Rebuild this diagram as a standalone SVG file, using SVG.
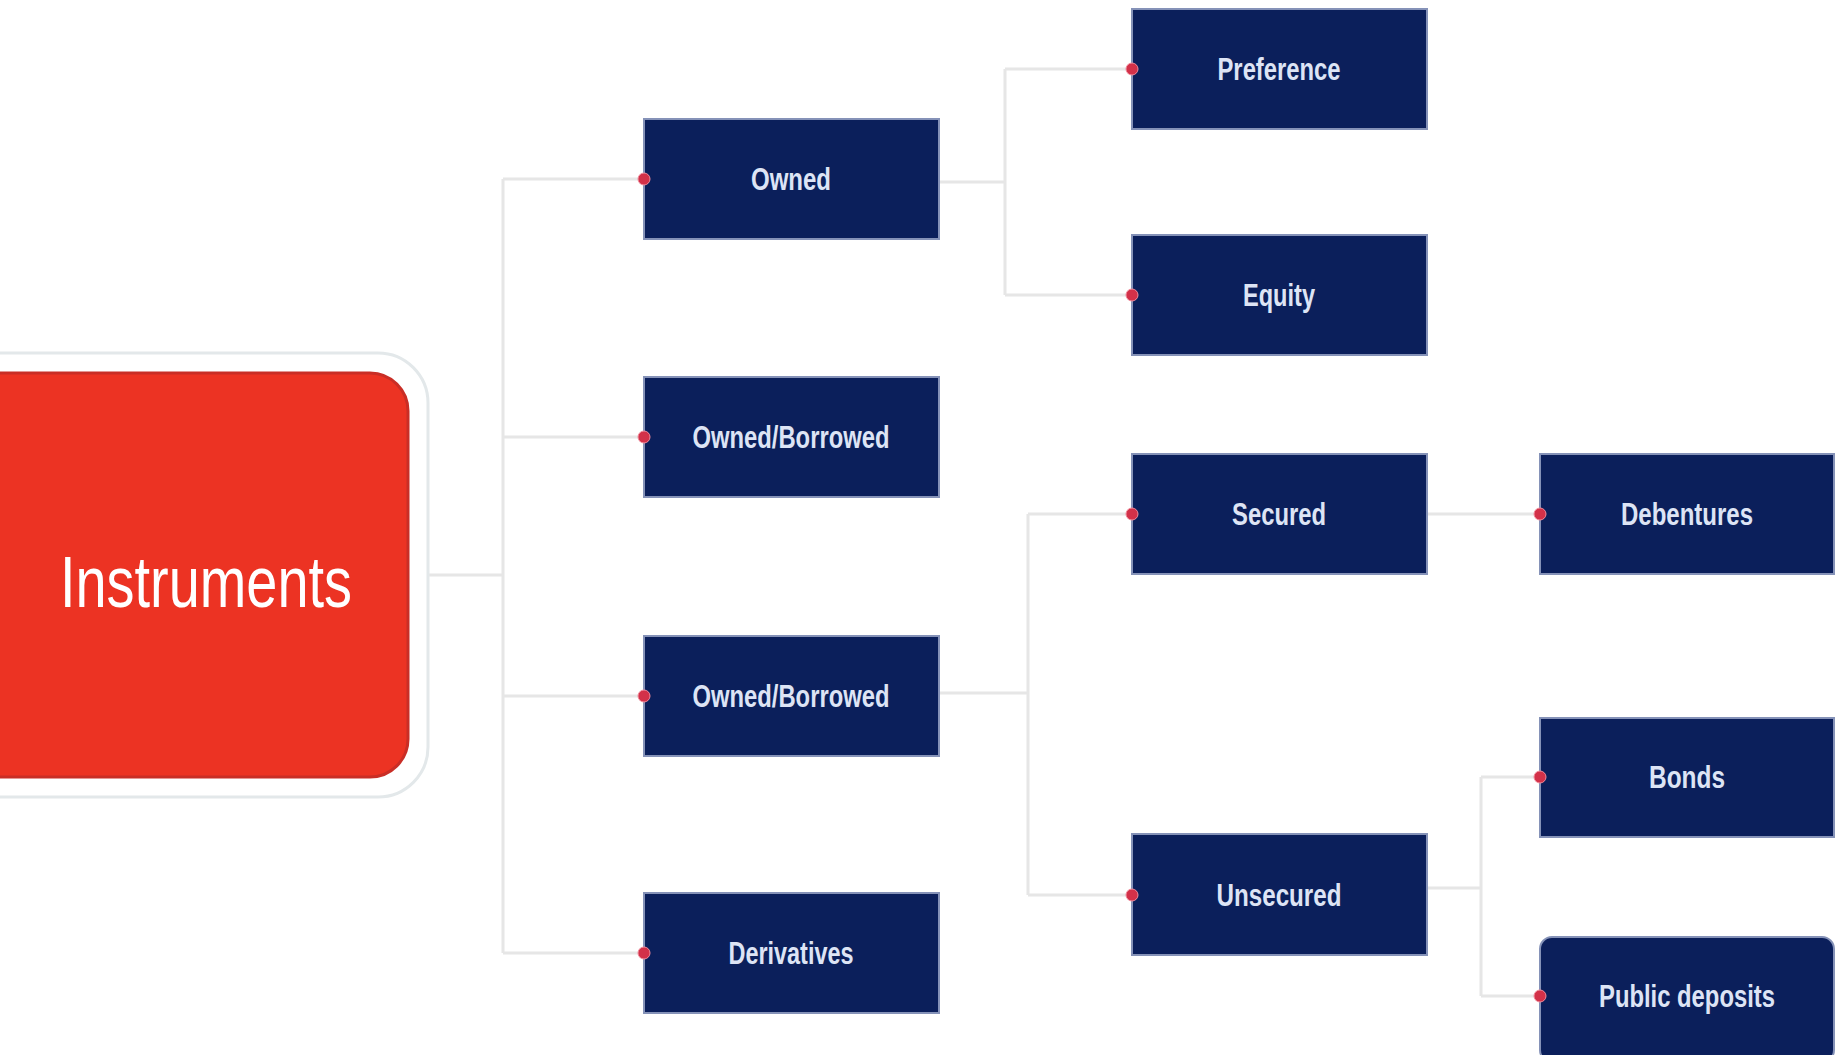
<svg xmlns="http://www.w3.org/2000/svg" width="1843" height="1055" viewBox="0 0 1843 1055">
<style>
.box{fill:#0b1f5b;stroke:#8592b8;stroke-width:2}
.lbl{font-family:"Liberation Sans",Arial,sans-serif;font-weight:bold;font-size:31px;fill:#dde4f5;text-anchor:middle}
.dot{fill:#d33149;stroke:#f08a9a;stroke-width:1}
.conn{fill:none;stroke:#e6e6e6;stroke-width:3}
</style>
<rect width="1843" height="1055" fill="#ffffff"/>
<g id="connectors">
<path class="conn" d="M428 575 H503 M503 179 V953 M503 179 H644 M503 437 H644 M503 696 H644 M503 953 H644"/>
<path class="conn" d="M939 182 H1005 M1005 69 V295 M1005 69 H1132 M1005 295 H1132"/>
<path class="conn" d="M939 693 H1028 M1028 514 V895 M1028 514 H1132 M1028 895 H1132"/>
<path class="conn" d="M1427 514 H1540"/>
<path class="conn" d="M1427 888 H1481 M1481 777 V996 M1481 777 H1540 M1481 996 H1540"/>
</g>
<g id="instruments">
<rect x="-60" y="353" width="488" height="444" rx="50" fill="#ffffff" stroke="#e3e8ea" stroke-width="3"/>
<rect x="-60" y="373" width="468" height="404" rx="38" fill="#ec3323" stroke="#c92e26" stroke-width="3"/>
<text x="206" y="607" font-family="Liberation Sans,Arial,sans-serif" font-size="72" fill="#ffffff" text-anchor="middle" textLength="292" lengthAdjust="spacingAndGlyphs">Instruments</text>
</g>
<g id="owned">
<rect class="box" x="644" y="119" width="295" height="120"/>
<circle class="dot" cx="644" cy="179" r="6"/>
<text class="lbl" x="791" y="190" textLength="80" lengthAdjust="spacingAndGlyphs">Owned</text>
</g>
<g id="owned-borrowed-1">
<rect class="box" x="644" y="377" width="295" height="120"/>
<circle class="dot" cx="644" cy="437" r="6"/>
<text class="lbl" x="791" y="448" textLength="197" lengthAdjust="spacingAndGlyphs">Owned/Borrowed</text>
</g>
<g id="owned-borrowed-2">
<rect class="box" x="644" y="636" width="295" height="120"/>
<circle class="dot" cx="644" cy="696" r="6"/>
<text class="lbl" x="791" y="707" textLength="197" lengthAdjust="spacingAndGlyphs">Owned/Borrowed</text>
</g>
<g id="derivatives">
<rect class="box" x="644" y="893" width="295" height="120"/>
<circle class="dot" cx="644" cy="953" r="6"/>
<text class="lbl" x="791" y="964" textLength="125" lengthAdjust="spacingAndGlyphs">Derivatives</text>
</g>
<g id="preference">
<rect class="box" x="1132" y="9" width="295" height="120"/>
<circle class="dot" cx="1132" cy="69" r="6"/>
<text class="lbl" x="1279" y="80" textLength="123" lengthAdjust="spacingAndGlyphs">Preference</text>
</g>
<g id="equity">
<rect class="box" x="1132" y="235" width="295" height="120"/>
<circle class="dot" cx="1132" cy="295" r="6"/>
<text class="lbl" x="1279" y="306" textLength="72" lengthAdjust="spacingAndGlyphs">Equity</text>
</g>
<g id="secured">
<rect class="box" x="1132" y="454" width="295" height="120"/>
<circle class="dot" cx="1132" cy="514" r="6"/>
<text class="lbl" x="1279" y="525" textLength="94" lengthAdjust="spacingAndGlyphs">Secured</text>
</g>
<g id="unsecured">
<rect class="box" x="1132" y="834" width="295" height="121"/>
<circle class="dot" cx="1132" cy="895" r="6"/>
<text class="lbl" x="1279" y="906" textLength="125" lengthAdjust="spacingAndGlyphs">Unsecured</text>
</g>
<g id="debentures">
<rect class="box" x="1540" y="454" width="294" height="120"/>
<circle class="dot" cx="1540" cy="514" r="6"/>
<text class="lbl" x="1687" y="525" textLength="132" lengthAdjust="spacingAndGlyphs">Debentures</text>
</g>
<g id="bonds">
<rect class="box" x="1540" y="718" width="294" height="119"/>
<circle class="dot" cx="1540" cy="777" r="6"/>
<text class="lbl" x="1687" y="788" textLength="76" lengthAdjust="spacingAndGlyphs">Bonds</text>
</g>
<g id="public-deposits">
<rect class="box" x="1540" y="937" width="294" height="125" rx="12"/>
<circle class="dot" cx="1540" cy="996" r="6"/>
<text class="lbl" x="1687" y="1007" textLength="176" lengthAdjust="spacingAndGlyphs">Public deposits</text>
</g>
</svg>
